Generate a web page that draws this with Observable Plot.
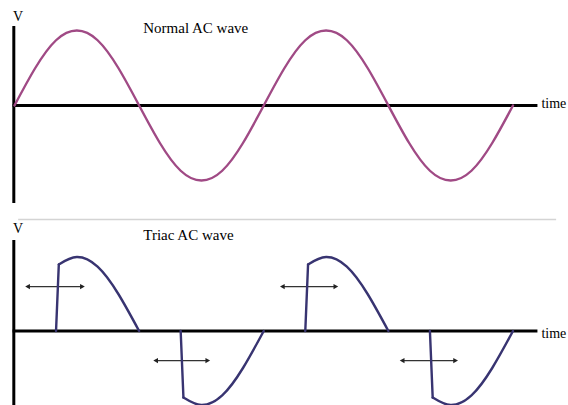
<!DOCTYPE html>
<html><head><meta charset="utf-8">
<script src="https://cdn.jsdelivr.net/npm/d3@7"></script>
<script src="https://cdn.jsdelivr.net/npm/@observablehq/plot@0.6"></script>
<style>
body{margin:0;background:#fff}
#chart{position:relative;width:568px;height:405px;overflow:hidden;background:#fff}
#chart svg{position:absolute;left:0}
</style>
</head><body><div id="chart"></div><script>
// ---- data (phase in degrees, voltage normalised to peak) ----
const normalPhase = [0,30,60,90,120,150,180,210,240,270,300,330,360,390,420,450,480,510,540,570,600,630,660,690,720];
const normalVolts = [0,0.5,0.87,1,0.87,0.5,0,-0.5,-0.87,-1,-0.87,-0.5,0,0.5,0.87,1,0.87,0.5,0,-0.5,-0.87,-1,-0.87,-0.5,0];

// triac conduction arcs (after firing)
const triacSegment = [1,1,1,1,1, 2,2,2,2,2, 3,3,3,3,3, 4,4,4,4,4];
const triacPhase   = [64,90,120,150,180, 244,270,300,330,360, 424,450,480,510,540, 604,630,660,690,720];
const triacVolts   = [0.9,1,0.87,0.5,0, -0.9,-1,-0.87,-0.5,0, 0.9,1,0.87,0.5,0, -0.9,-1,-0.87,-0.5,0];

// firing jumps
const jumpPhaseFrom = [60,240,420,600];
const jumpPhaseTo   = [64,244,424,604];
const jumpVoltsTo   = [0.9,-0.9,0.9,-0.9];

// firing-angle adjustment arrows
const arrowPhaseFrom = [20,205,388,561];
const arrowPhaseTo   = [97,278,463,636];
const arrowVolts     = [0.6,-0.4,0.6,-0.4];

const titles = ["Normal AC wave","Triac AC wave"];
const yLabel = "V";
const xLabel = "time";

// ---- tables ----
const normal = normalPhase.map((p,i)=>({phase:p, v:normalVolts[i]}));
const triac = triacPhase.map((p,i)=>({seg:triacSegment[i], phase:p, v:triacVolts[i]}));
const jumps = jumpPhaseFrom.map((p,i)=>({x1:p, x2:jumpPhaseTo[i], y2:jumpVoltsTo[i]}));
const arrows = arrowPhaseFrom.map((p,i)=>({x1:p, x2:arrowPhaseTo[i], y:arrowVolts[i]}));

const pink = "#a04a85", navy = "#383471", serif = "'Liberation Serif', 'Times New Roman', serif";
const xScale = {domain:[0,760], range:[14,540.2], axis:null};
const txt = {text:d=>d, fill:"black", fontFamily:serif};

const topPlot = Plot.plot({
  width:568, height:212,
  x: xScale,
  y: {domain:[-1,1], range:[180,30], axis:null},
  style:{fontFamily:serif, background:"transparent", overflow:"visible"},
  marks:[
    Plot.ruleX([-1], {y1:-1.307, y2:1.053, stroke:"black", strokeWidth:3}),
    Plot.ruleY([0], {x1:-2, x2:756, stroke:"black", strokeWidth:3}),
    Plot.line(normal, {x:"phase", y:"v", curve:"natural", stroke:pink, strokeWidth:2.4}),
    Plot.text([yLabel], {...txt, x:5, y:1.19, fontSize:14}),
    Plot.text([xLabel], {...txt, x:761, y:0.02, fontSize:14, textAnchor:"start"}),
    Plot.text([titles[0]], {...txt, x:186, y:1.027, fontSize:15, textAnchor:"start"})
  ]
});
topPlot.style.top = "0px";

const bottomPlot = Plot.plot({
  width:568, height:193,
  x: xScale,
  y: {domain:[-1,1], range:[192.5,44.5], axis:null},
  style:{fontFamily:serif, background:"transparent", overflow:"visible"},
  marks:[
    Plot.ruleY([1.507], {x1:6, x2:783, stroke:"#d4d4d4", strokeWidth:1.5}),
    Plot.ruleX([-1], {y1:-1.2, y2:1.223, stroke:"black", strokeWidth:3}),
    Plot.ruleY([0], {x1:-2, x2:756, stroke:"black", strokeWidth:3}),
    Plot.link(arrows, {x1:"x1", x2:"x2", y1:"y", y2:"y", stroke:"#333", strokeWidth:1.3}),
    Plot.dot(arrows, {x:"x1", y:"y", symbol:"triangle2", r:2.6, fill:"#222", rotate:-90}),
    Plot.dot(arrows, {x:"x2", y:"y", symbol:"triangle2", r:2.6, fill:"#222", rotate:90}),
    Plot.link(jumps, {x1:"x1", x2:"x2", y1:0, y2:"y2", stroke:navy, strokeWidth:2.4, strokeLinecap:"round"}),
    Plot.line(triac, {x:"phase", y:"v", z:"seg", curve:"natural", stroke:navy, strokeWidth:2.4}),
    Plot.text([yLabel], {...txt, x:5, y:1.39, fontSize:14}),
    Plot.text([xLabel], {...txt, x:761, y:-0.04, fontSize:14, textAnchor:"start"}),
    Plot.text([titles[1]], {...txt, x:186, y:1.30, fontSize:15, textAnchor:"start"})
  ]
});
bottomPlot.style.top = "212px";

document.getElementById("chart").append(topPlot, bottomPlot);
</script></body></html>
